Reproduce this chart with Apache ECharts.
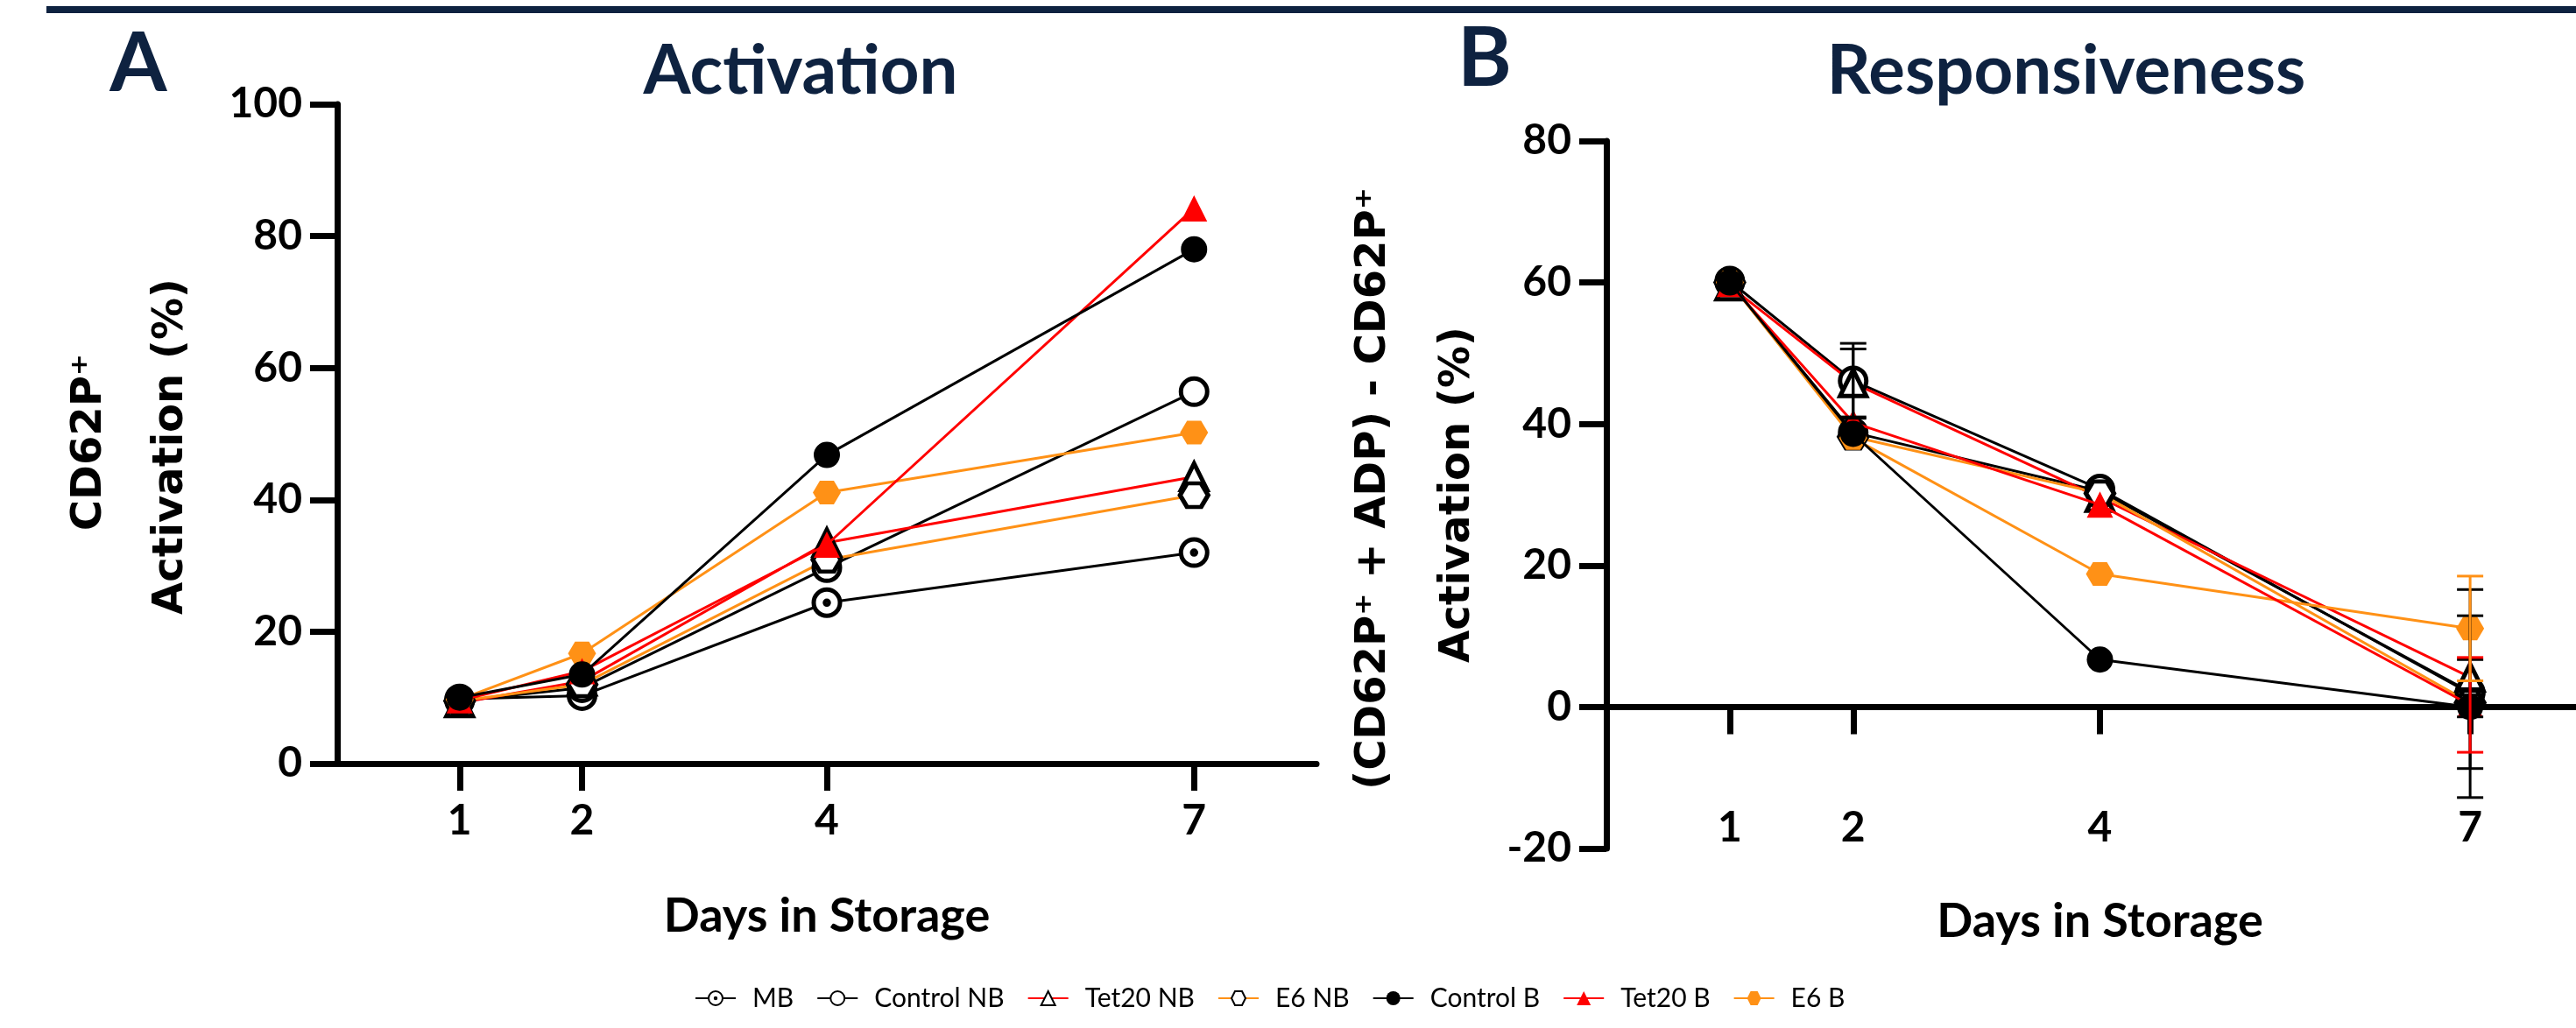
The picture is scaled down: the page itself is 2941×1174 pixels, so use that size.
<!DOCTYPE html>
<html>
<head>
<meta charset="utf-8">
<script src="https://cdn.jsdelivr.net/npm/echarts@6/dist/echarts.min.js"></script>
<style>
  html, body { margin: 0; padding: 0; background: #fff; }
  #chart { width: 2941px; height: 1174px; }
</style>
</head>
<body>
<div id="chart"></div>
<script>
// days on the x axis
var days = [1, 2, 4, 7];
var names = ['MB', 'Control NB', 'Tet20 NB', 'E6 NB', 'Control B', 'Tet20 B', 'E6 B'];

// A - CD62P+ activation (%)
var actMB = [9.8, 10.3, 24.4, 32.0];
var actControlNB = [9.5, 11.5, 29.7, 56.4];
var actTet20NB = [9.2, 12.5, 33.5, 43.5];
var actE6NB = [9.5, 12.0, 30.9, 40.7];
var actControlB = [10.0, 13.5, 46.8, 78.0];
var actTet20B = [9.6, 14.0, 33.2, 84.2];
var actE6B = [9.7, 16.7, 41.1, 50.2];

// B - responsiveness (%)
var respMB = [60.0, 38.8, 30.5, 2.1];
var respControlNB = [60.2, 46.1, 30.8, 1.9];
var respTet20NB = [59.5, 45.8, 29.6, 4.2];
var respE6NB = [60.0, 38.2, 30.2, 0.6];
var respControlB = [60.0, 38.6, 6.7, 0.0];
var respTet20B = [59.8, 40.2, 28.6, 0.3];
var respE6B = [60.0, 38.0, 18.8, 11.1];

// B - error bars (+/-)
var sdMB = [0, 0, 0, 10.8];
var sdControlNB = [0, 5.3, 0, 14.7];
var sdTet20NB = [0, 4.8, 0, 2.5];
var sdE6NB = [0, 0, 0, 2.0];
var sdControlB = [0, 0, 0, 0];
var sdTet20B = [0, 0, 0, 6.7];
var sdE6B = [0, 0, 0, 7.4];

var yTicksA = { min: 0, max: 100, step: 20 };
var yTicksB = { min: -20, max: 80, step: 20 };

var actAll = [actMB, actControlNB, actTet20NB, actE6NB, actControlB, actTet20B, actE6B];
var respAll = [respMB, respControlNB, respTet20NB, respE6NB, respControlB, respTet20B, respE6B];
var sdAll = [sdMB, sdControlNB, sdTet20NB, sdE6NB, sdControlB, sdTet20B, sdE6B];

var RED = '#ff0000', ORANGE = '#ff9116', NAVY = '#0e2240';
var HEX = 'path://M0,10 L5,1.34 L15,1.34 L20,10 L15,18.66 L5,18.66 Z';
var BULL = 'path://M0,10 A10,10 0 1,1 20,10 A10,10 0 1,1 0,10 Z M8.5,10 A1.5,1.5 0 1,1 11.5,10 A1.5,1.5 0 1,1 8.5,10 Z';

var looks = [
  { symbol: BULL, line: '#000', fill: '#fff', border: '#000', err: '#000', z: 3 },
  { symbol: 'circle', line: '#000', fill: '#fff', border: '#000', err: '#000', z: 3 },
  { symbol: 'triangle', line: RED, fill: '#fff', border: '#000', err: '#000', z: 3 },
  { symbol: HEX, line: ORANGE, fill: '#fff', border: '#000', err: '#000', z: 3 },
  { symbol: 'circle', line: '#000', fill: '#000', border: '#000', err: '#000', z: 6 },
  { symbol: 'triangle', line: RED, fill: RED, border: RED, err: RED, z: 4 },
  { symbol: HEX, line: ORANGE, fill: ORANGE, border: ORANGE, err: ORANGE, z: 3 }
];

var tickFont = { fontFamily: 'Lato', fontWeight: 'bold', fontSize: 48, color: '#000' };
var nameFont = { fontFamily: 'Lato', fontWeight: 'bold', fontSize: 54, color: '#000' };
var yTitleFont = 'bold 48px "DejaVu Sans"';

function symSize(s) {
  return s === HEX ? [32, 27] : 30;
}

var series = [];
function addLines(vals, gridIdx) {
  vals.forEach(function (v, i) {
    var lk = looks[i];
    series.push({
      name: names[i],
      type: 'line',
      xAxisIndex: gridIdx,
      yAxisIndex: gridIdx,
      data: days.map(function (d, j) { return [d, v[j]]; }),
      symbol: lk.symbol,
      symbolSize: symSize(lk.symbol),
      showAllSymbol: true,
      color: lk.line,
      lineStyle: { color: lk.line, width: 3 },
      itemStyle: {
        color: lk.fill,
        borderColor: lk.border,
        borderWidth: lk.fill === lk.border ? 0 : 5
      },
      emphasis: { disabled: true },
      z: lk.z
    });
  });
}
addLines(actAll, 0);
addLines(respAll, 1);

sdAll.forEach(function (sd, i) {
  var pts = [];
  days.forEach(function (d, j) {
    if (sd[j] > 0) pts.push([d, respAll[i][j], sd[j]]);
  });
  if (!pts.length) return;
  var col = looks[i].err;
  series.push({
    name: 'err ' + names[i],
    type: 'custom',
    xAxisIndex: 1,
    yAxisIndex: 1,
    data: pts,
    z: 7,
    renderItem: function (params, api) {
      var x = api.value(0), y = api.value(1), e = api.value(2);
      var hi = api.coord([x, y + e]);
      var lo = api.coord([x, y - e]);
      var w = 15;
      var st = { stroke: col, lineWidth: 3 };
      return {
        type: 'group',
        children: [
          { type: 'line', shape: { x1: hi[0], y1: hi[1], x2: lo[0], y2: lo[1] }, style: st },
          { type: 'line', shape: { x1: hi[0] - w, y1: hi[1], x2: hi[0] + w, y2: hi[1] }, style: st },
          { type: 'line', shape: { x1: lo[0] - w, y1: lo[1], x2: lo[0] + w, y2: lo[1] }, style: st }
        ]
      };
    }
  });
});

function xAxis(gridIdx, labelMargin, nameGap) {
  return {
    type: 'value',
    gridIndex: gridIdx,
    min: 0,
    max: 8,
    axisLine: { lineStyle: { color: '#000', width: 7 } },
    axisTick: { show: true, customValues: days, length: 31, lineStyle: { color: '#000', width: 7 } },
    axisLabel: Object.assign({ customValues: days, margin: labelMargin }, tickFont),
    splitLine: { show: false },
    name: 'Days in Storage',
    nameLocation: 'middle',
    nameGap: nameGap,
    nameTextStyle: nameFont
  };
}

function yAxis(gridIdx, t) {
  return {
    type: 'value',
    gridIndex: gridIdx,
    min: t.min,
    max: t.max,
    interval: t.step,
    axisLine: { show: true, onZero: false, lineStyle: { color: '#000', width: 7 } },
    axisTick: { length: 31, lineStyle: { color: '#000', width: 7 } },
    axisLabel: Object.assign({ margin: 40 }, tickFont),
    splitLine: { show: false }
  };
}

function vText(text, x, y, align) {
  return {
    type: 'text', x: x, y: y, rotation: Math.PI / 2,
    style: { text: text, font: yTitleFont, fill: '#000', align: align, verticalAlign: 'middle' }
  };
}

var chart = echarts.init(document.getElementById('chart'));
chart.setOption({
  backgroundColor: '#fff',
  animation: false,
  title: [
    { text: 'Activation', left: 909, top: 38, textAlign: 'center',
      textStyle: { fontFamily: 'Lato', fontWeight: 'bold', fontSize: 78, color: NAVY } },
    { text: 'Responsiveness', left: 2354, top: 38, textAlign: 'center',
      textStyle: { fontFamily: 'Lato', fontWeight: 'bold', fontSize: 78, color: NAVY } },
    { text: 'A', left: 153, top: 22, textAlign: 'center',
      textStyle: { fontFamily: 'Lato', fontWeight: 'bold', fontSize: 94, color: NAVY } },
    { text: 'B', left: 1690, top: 16, textAlign: 'center',
      textStyle: { fontFamily: 'Lato', fontWeight: 'bold', fontSize: 94, color: NAVY } }
  ],
  graphic: [
    { type: 'rect', shape: { x: 53, y: 7, width: 2888, height: 8 }, style: { fill: NAVY } },
    vText('CD62P\u207A', 103, 505, 'center'),
    vText('Activation (%)', 196, 510, 'center'),
    vText('(CD62P\u207A + ADP) - CD62P\u207A', 1569, 214, 'right'),
    vText('Activation (%)', 1665, 565, 'center')
  ],
  legend: {
    data: names,
    bottom: 14,
    left: 788,
    itemWidth: 46,
    itemHeight: 20,
    itemGap: 26,
    textStyle: { fontFamily: 'Lato', fontSize: 30, color: '#000', padding: [0, 0, 0, 14] }
  },
  grid: [
    { left: 385, top: 119, width: 1118, height: 753, outerBoundsMode: 'none' },
    { left: 1834, top: 161, width: 1127, height: 808, outerBoundsMode: 'none' }
  ],
  xAxis: [xAxis(0, 42, 148), xAxis(1, -47, 57)],
  yAxis: [yAxis(0, yTicksA), yAxis(1, yTicksB)],
  series: series
});
</script>
</body>
</html>
